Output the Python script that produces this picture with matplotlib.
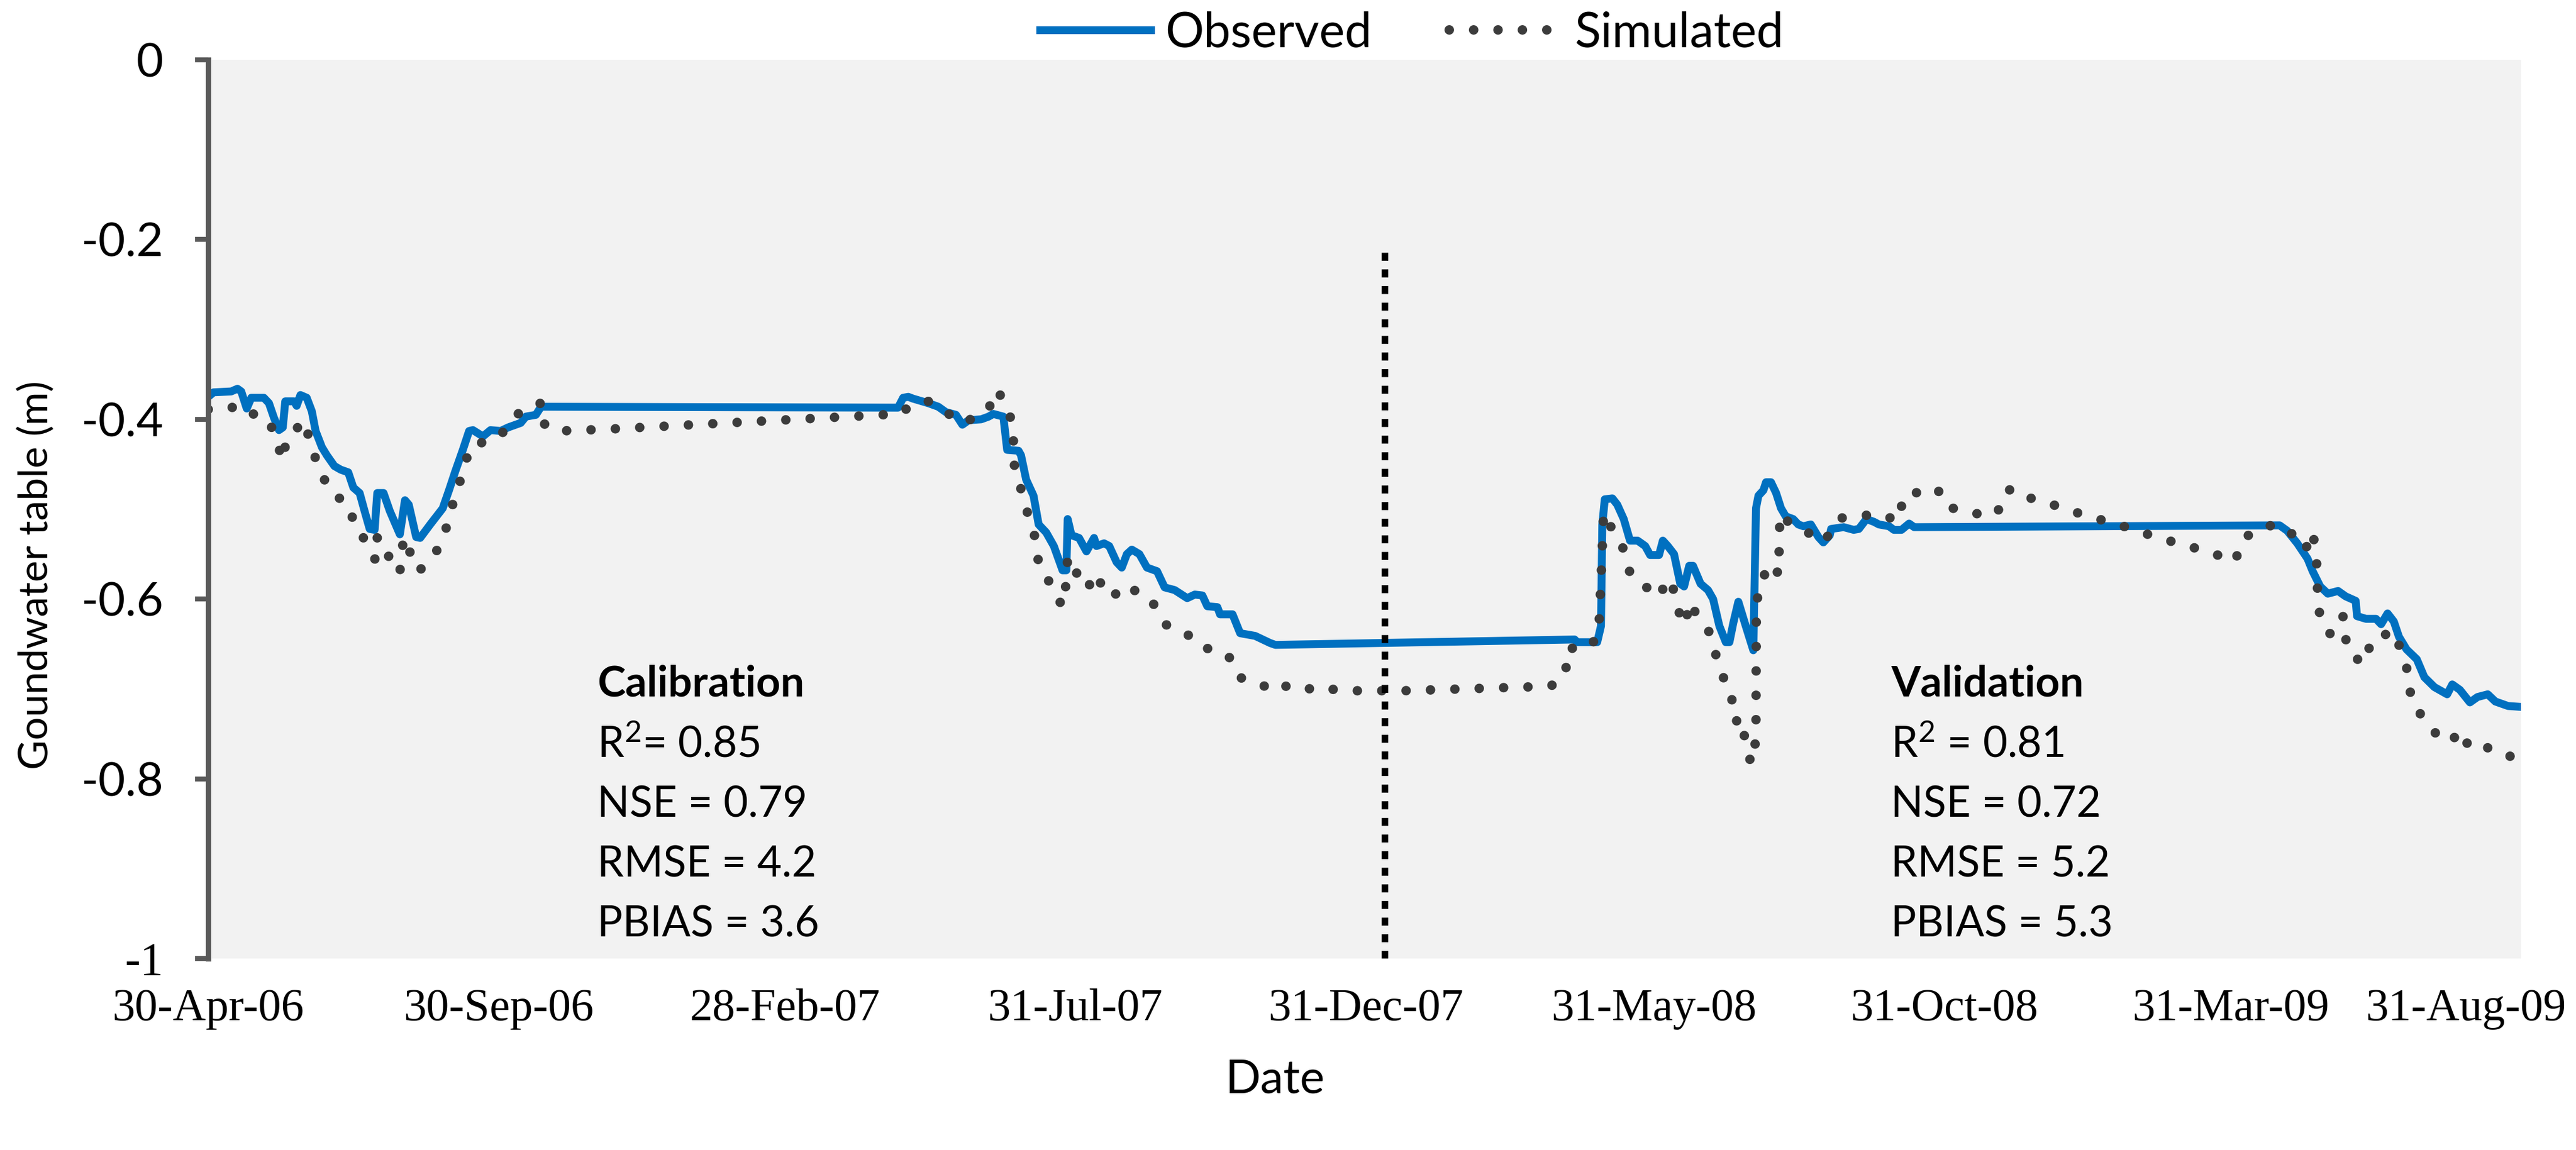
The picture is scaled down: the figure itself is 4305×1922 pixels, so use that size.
import numpy as np
import matplotlib
matplotlib.use("Agg")
import matplotlib.pyplot as plt
import matplotlib.dates as mdates
from matplotlib.transforms import ScaledTranslation

# --- data (days after 30-Apr-2006, groundwater table in m) ---
start = np.datetime64("2006-04-30")
end = np.datetime64("2009-08-31")

obs_day = [0, 2.8, 12.1, 15.4, 17.4, 20.3, 22.7, 29.3, 32.0, 34.6, 37.3, 39.3, 40.6, 45.3, 46.6,
           48.6, 51.9, 54.6, 56.6, 59.9, 62.5, 66.5, 69.8, 73.8, 76.5, 79.8, 82.4, 85.1, 87.7,
           89.1, 92.4, 95.7, 101.0, 103.7, 105.7, 109.6, 111.7, 117.0, 123.6, 126.9, 130.2,
           134.2, 137.5, 139.5, 144.8, 148.8, 154.1, 158.1, 164.7, 167.4, 172.7, 175.4, 363.6,
           366.3, 369.0, 371.5, 379.5, 384.8, 388.8, 394.1, 397.5, 400.8, 407.4, 411.3, 413.8,
           419.1, 421.1, 427.1, 428.4, 431.1, 435.0, 437.7, 441.7, 445.7, 450.3, 452.3, 453.0,
           455.0, 459.0, 462.9, 466.9, 468.2, 472.2, 474.9, 478.8, 481.5, 484.2, 486.8, 490.8,
           494.8, 500.1, 504.1, 509.4, 516.0, 520.0, 524.0, 526.6, 531.9, 533.3, 539.9, 543.9,
           551.8, 559.8, 562.5, 720.2, 721.5, 732.1, 734.1, 734.8, 736.1, 740.1, 742.7, 746.1,
           749.4, 753.4, 757.4, 760.0, 764.7, 766.7, 769.3, 772.6, 775.9, 777.9, 780.6, 782.6,
           786.6, 790.5, 793.2, 796.5, 799.9, 801.8, 803.8, 806.5, 810.4, 814.4, 815.8, 817.1,
           819.7, 821.1, 823.7, 826.4, 829.0, 831.5, 835.4, 838.1, 840.8, 844.7, 848.7, 851.3,
           854.7, 855.4, 862.0, 867.3, 870.0, 874.0, 877.9, 880.6, 885.9, 888.5, 892.5, 896.5,
           899.2, 1091.8, 1095.8, 1101.1, 1106.5, 1109.2, 1113.2, 1117.2, 1122.6, 1126.6,
           1131.9, 1132.6, 1137.3, 1142.6, 1145.3, 1148.7, 1152.0, 1154.7, 1158.7, 1164.1,
           1168.1, 1173.4, 1180.1, 1182.8, 1186.8, 1192.1, 1196.1, 1201.5, 1205.5, 1212.2, 1219.0]
obs_val = [-0.375, -0.370, -0.369, -0.366, -0.369, -0.388, -0.376, -0.376, -0.382, -0.398, -0.412,
           -0.409, -0.380, -0.380, -0.385, -0.373, -0.376, -0.391, -0.413, -0.431, -0.440, -0.452,
           -0.456, -0.459, -0.476, -0.482, -0.502, -0.522, -0.523, -0.482, -0.482, -0.502, -0.528,
           -0.490, -0.495, -0.531, -0.532, -0.517, -0.499, -0.479, -0.458, -0.434, -0.413, -0.412,
           -0.419, -0.412, -0.413, -0.409, -0.404, -0.397, -0.395, -0.386, -0.387, -0.376, -0.375,
           -0.377, -0.382, -0.386, -0.392, -0.395, -0.406, -0.401, -0.400, -0.397, -0.394, -0.397,
           -0.434, -0.435, -0.440, -0.467, -0.485, -0.517, -0.526, -0.541, -0.568, -0.568, -0.511,
           -0.529, -0.532, -0.547, -0.532, -0.541, -0.538, -0.541, -0.559, -0.565, -0.550, -0.545,
           -0.550, -0.565, -0.569, -0.587, -0.590, -0.599, -0.595, -0.596, -0.608, -0.609, -0.617,
           -0.617, -0.638, -0.641, -0.649, -0.651, -0.645, -0.648, -0.648, -0.630, -0.517, -0.489,
           -0.488, -0.495, -0.511, -0.535, -0.535, -0.541, -0.551, -0.551, -0.535, -0.541, -0.550,
           -0.583, -0.586, -0.563, -0.563, -0.583, -0.590, -0.600, -0.630, -0.648, -0.648, -0.627,
           -0.603, -0.630, -0.657, -0.499, -0.485, -0.479, -0.470, -0.470, -0.482, -0.499, -0.508,
           -0.511, -0.517, -0.519, -0.517, -0.531, -0.537, -0.529, -0.522, -0.520, -0.523, -0.522,
           -0.511, -0.514, -0.517, -0.519, -0.523, -0.523, -0.516, -0.520, -0.518, -0.524, -0.538,
           -0.555, -0.569, -0.586, -0.594, -0.591, -0.597, -0.602, -0.619, -0.622, -0.622, -0.628,
           -0.616, -0.625, -0.642, -0.656, -0.667, -0.687, -0.698, -0.706, -0.695, -0.701, -0.715,
           -0.709, -0.706, -0.714, -0.719, -0.720]

sim_day = [0, 12.1, 20.0, 24.0, 32.0, 36.0, 39.3, 41.3, 45.9, 50.6, 53.9, 57.9, 61.9, 66.5, 73.1,
           77.1, 79.8, 83.8, 88.4, 89.1, 93.0, 96.4, 101.0, 102.0, 103.7, 107.6, 111.0, 119.6,
           124.9, 128.2, 132.2, 135.5, 139.5, 148.8, 156.8, 164.1, 172.7, 176.0, 177.4, 184.6,
           197.3, 210.3, 364.3, 372.2, 379.5, 388.8, 397.5, 407.4, 413.4, 416.5, 419.8, 423.8,
           424.5, 425.0, 427.1, 430.4, 433.1, 436.4, 437.7, 441.7, 445.7, 450.3, 452.3, 453.0,
           455.6, 459.0, 463.6, 466.9, 470.9, 475.5, 479.5, 488.8, 494.8, 500.8, 505.4, 524.0,
           526.6, 533.3, 541.2, 544.6, 553.2, 561.2, 566.5, 575.8, 586.4, 595.7, 616.9, 630.0,
           707.6, 715.5, 716.2, 728.1, 732.8, 733.4, 734.5, 735.5, 736.8, 741.2, 746.1, 749.4,
           753.4, 756.7, 760.7, 765.3, 768.7, 772.0, 774.6, 778.6, 780.6, 783.9, 787.9, 791.9,
           794.5, 798.5, 802.5, 803.1, 805.1, 807.1, 810.4, 813.1, 815.1, 815.8, 816.0, 818.2,
           823.7, 827.7, 828.0, 828.4, 832.8, 841.4, 850.0, 854.7, 860.0, 870.0, 879.9, 891.2,
           893.2, 897.8, 902.5, 907.1, 911.8, 916.4, 919.7, 930.4, 943.0, 946.3, 950.9, 957.6,
           969.5, 982.1, 994.5, 1006.7, 1019.3, 1031.6, 1043.6, 1056.4, 1068.4, 1071.8, 1078.4,
           1089.1, 1097.1, 1103.8, 1106.5, 1109.2, 1111.2, 1111.6, 1112.0, 1113.9, 1118.6,
           1122.6, 1125.3, 1126.6, 1130.6, 1133.3, 1137.3, 1140.0, 1145.3, 1152.7, 1156.0,
           1160.0, 1161.0, 1165.4, 1170.0, 1176.1, 1183.4, 1185.4, 1189.4, 1193.4, 1200.1,
           1208.2, 1214.8, 1219.0]
sim_val = [-0.389, -0.386, -0.397, -0.394, -0.401, -0.424, -0.446, -0.421, -0.412, -0.401, -0.427,
           -0.452, -0.470, -0.485, -0.492, -0.516, -0.520, -0.544, -0.557, -0.531, -0.537, -0.562,
           -0.571, -0.544, -0.531, -0.556, -0.569, -0.550, -0.525, -0.499, -0.473, -0.447, -0.427,
           -0.425, -0.412, -0.392, -0.385, -0.381, -0.407, -0.413, -0.412, -0.411, -0.394, -0.382,
           -0.380, -0.392, -0.404, -0.395, -0.382, -0.367, -0.388, -0.401, -0.428, -0.455, -0.468,
           -0.493, -0.514, -0.535, -0.562, -0.574, -0.592, -0.608, -0.581, -0.553, -0.566, -0.574,
           -0.589, -0.571, -0.584, -0.581, -0.600, -0.590, -0.597, -0.612, -0.630, -0.647, -0.655,
           -0.657, -0.670, -0.688, -0.693, -0.702, -0.696, -0.702, -0.697, -0.702, -0.702, -0.702,
           -0.697, -0.684, -0.655, -0.654, -0.639, -0.612, -0.559, -0.504, -0.511, -0.526, -0.545,
           -0.571, -0.580, -0.583, -0.594, -0.597, -0.577, -0.587, -0.612, -0.629, -0.603, -0.615,
           -0.627, -0.639, -0.661, -0.687, -0.699, -0.712, -0.737, -0.731, -0.758, -0.783, -0.770,
           -0.743, -0.606, -0.581, -0.560, -0.572, -0.545, -0.505, -0.514, -0.523, -0.537, -0.528,
           -0.510, -0.508, -0.505, -0.513, -0.488, -0.480, -0.483, -0.477, -0.480, -0.483, -0.499,
           -0.505, -0.505, -0.482, -0.477, -0.486, -0.493, -0.502, -0.510, -0.517, -0.526, -0.534,
           -0.541, -0.549, -0.558, -0.535, -0.524, -0.517, -0.524, -0.545, -0.541, -0.525, -0.552,
           -0.579, -0.606, -0.627, -0.639, -0.636, -0.619, -0.645, -0.650, -0.670, -0.670, -0.645,
           -0.641, -0.636, -0.661, -0.684, -0.712, -0.726, -0.740, -0.754, -0.750, -0.765, -0.757,
           -0.768, -0.765, -0.768, -0.777, -0.774]

tick_dates = ["2006-04-30", "2006-09-30", "2007-02-28", "2007-07-31", "2007-12-31",
              "2008-05-31", "2008-10-31", "2009-03-31", "2009-08-31"]
tick_labels = ["30-Apr-06", "30-Sep-06", "28-Feb-07", "31-Jul-07", "31-Dec-07",
               "31-May-08", "31-Oct-08", "31-Mar-09", "31-Aug-09"]
y_ticks = [0, -0.2, -0.4, -0.6, -0.8, -1]
y_labels = ["0", "-0.2", "-0.4", "-0.6", "-0.8", "-1"]

split_day = 620      # calibration / validation boundary
split_top = -0.21

calib_stats = ["R$^2$= 0.85", "NSE = 0.79", "RMSE = 4.2", "PBIAS = 3.6"]
valid_stats = ["R$^2$ = 0.81", "NSE = 0.72", "RMSE = 5.2", "PBIAS = 5.3"]

# --- figure ---
plt.rcParams["mathtext.default"] = "regular"
sans = "Lato"
serif = "Liberation Serif"

t0 = mdates.date2num(start)
x_obs = t0 + np.array(obs_day)
x_sim = t0 + np.array(sim_day)

fig = plt.figure(figsize=(43.05, 19.22), dpi=100)
ax = fig.add_axes([348 / 4305, 1 - 1602 / 1922, (4213 - 348) / 4305, 1502 / 1922])
ax.set_facecolor("#F2F2F2")

ax.plot(x_obs, obs_val, color="#0070C0", lw=9.5, solid_joinstyle="round", label="Observed")
ax.plot(x_sim, sim_val, color="#3C3C3C", lw=11.5, linestyle=(0, (0.001, 2.55)),
        dash_capstyle="round", label="Simulated")
ax.plot([t0 + split_day] * 2, [-1, split_top], color="black", lw=8,
        linestyle=(0, (1.2, 1.3)))

ax.set_xlim(t0, mdates.date2num(end))
ax.set_ylim(-1, 0)

ax.set_xticks([mdates.date2num(np.datetime64(d)) for d in tick_dates])
ax.set_xticklabels(tick_labels, fontfamily=serif, fontsize=55)
ax.tick_params(axis="x", length=0, pad=36)
# Excel pulls the last label inside the chart area
last = ax.get_xticklabels()[-1]
last.set_transform(last.get_transform() + ScaledTranslation(-0.92, 0, fig.dpi_scale_trans))

ax.set_yticks(y_ticks)
ax.set_yticklabels(y_labels, fontfamily=sans, fontsize=56)
ax.get_yticklabels()[-1].set_fontfamily(serif)
ax.tick_params(axis="y", direction="out", length=16, width=6, color="#595959", pad=38)

for s in ["top", "right", "bottom"]:
    ax.spines[s].set_visible(False)
ax.spines["left"].set_color("#595959")
ax.spines["left"].set_linewidth(6.5)

fig.text(0.014, 0.5, "Goundwater table (m)", rotation=90, ha="center", va="center",
         fontfamily=sans, fontsize=49)
fig.text(0.495, 0.061, "Date", ha="center", va="center", fontfamily=sans, fontsize=56)

fig.legend(loc="upper center", bbox_to_anchor=(0.548, 1.028), ncol=2, frameon=False,
           prop={"family": sans, "size": 58}, handlelength=2.3, handletextpad=0.3,
           columnspacing=1.6)

# stats blocks
line_y = [1 - 1265 / 1922, 1 - 1365 / 1922, 1 - 1466 / 1922, 1 - 1566 / 1922]
for x0, title, stats in [(998 / 4305, "Calibration", calib_stats),
                         (3160 / 4305, "Validation", valid_stats)]:
    fig.text(x0, 1 - 1164 / 1922, title, fontfamily=sans, fontsize=51,
             fontweight="bold", va="baseline")
    for yy, s in zip(line_y, stats):
        fig.text(x0, yy, s, fontfamily=sans, fontsize=51, va="baseline")

fig.savefig("out.png", dpi=100, facecolor="white")
